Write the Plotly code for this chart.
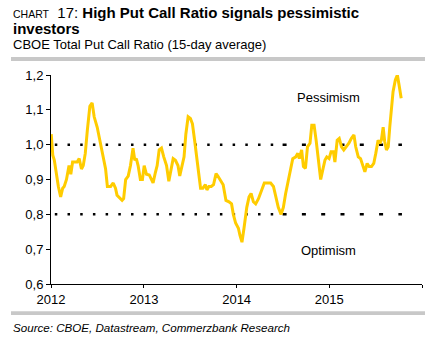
import plotly.graph_objects as go

dates = [
    "2012-01-02", "2012-01-08", "2012-01-14", "2012-01-23", "2012-01-30", "2012-02-08",
    "2012-02-16", "2012-02-22", "2012-03-02", "2012-03-12", "2012-03-19", "2012-03-26",
    "2012-04-04", "2012-04-13", "2012-04-21", "2012-04-30", "2012-05-07", "2012-05-15",
    "2012-05-23", "2012-06-02", "2012-06-11", "2012-06-19", "2012-07-01", "2012-07-11",
    "2012-07-22", "2012-08-03", "2012-08-10", "2012-08-23", "2012-09-02", "2012-09-11",
    "2012-09-17", "2012-09-28", "2012-10-07", "2012-10-13", "2012-10-21", "2012-10-31",
    "2012-11-09", "2012-11-19", "2012-11-26", "2012-12-02", "2012-12-09", "2012-12-18",
    "2012-12-26", "2013-01-02", "2013-01-11", "2013-01-22", "2013-01-31", "2013-02-06",
    "2013-02-15", "2013-02-22", "2013-03-02", "2013-03-11", "2013-03-20", "2013-03-31",
    "2013-04-09", "2013-04-17", "2013-04-26", "2013-05-05", "2013-05-15", "2013-05-22",
    "2013-05-31", "2013-06-08", "2013-06-15", "2013-06-24", "2013-07-03", "2013-07-11",
    "2013-07-20", "2013-07-29", "2013-08-06", "2013-08-12", "2013-08-21", "2013-08-31",
    "2013-09-06", "2013-09-14", "2013-09-23", "2013-10-02", "2013-10-12", "2013-10-19",
    "2013-10-27", "2013-11-09", "2013-11-20", "2013-12-02", "2013-12-12", "2013-12-19",
    "2013-12-28", "2014-01-08", "2014-01-14", "2014-01-22", "2014-01-30", "2014-02-10",
    "2014-02-19", "2014-02-27", "2014-03-08", "2014-03-17", "2014-03-28", "2014-04-10",
    "2014-04-20", "2014-05-06", "2014-05-15", "2014-05-26", "2014-06-05", "2014-06-14",
    "2014-06-25", "2014-07-04", "2014-07-13", "2014-07-24", "2014-08-02", "2014-08-10",
    "2014-08-22", "2014-08-30", "2014-09-05", "2014-09-14", "2014-09-21", "2014-09-29",
    "2014-10-07", "2014-10-17", "2014-10-24", "2014-11-02", "2014-11-10", "2014-11-19",
    "2014-11-28", "2014-12-06", "2014-12-15", "2014-12-22", "2014-12-31", "2015-01-08",
    "2015-01-17", "2015-01-23", "2015-02-01", "2015-02-09", "2015-02-18", "2015-02-27",
    "2015-03-10", "2015-03-19", "2015-03-29", "2015-04-08", "2015-04-15", "2015-04-25",
    "2015-05-04", "2015-05-11", "2015-05-21", "2015-05-30", "2015-06-07", "2015-06-16",
    "2015-06-25", "2015-07-03", "2015-07-12", "2015-07-19", "2015-07-25", "2015-08-01",
    "2015-08-07", "2015-08-14", "2015-08-21", "2015-08-27", "2015-09-03", "2015-09-09",
    "2015-09-18", "2015-09-26", "2015-10-03", "2015-10-11",
]
put_call_ratio = [
    1.03, 0.97, 0.956, 0.908, 0.88, 0.85,
    0.875, 0.88, 0.90, 0.94, 0.915, 0.95,
    0.95, 0.95, 0.96, 0.93, 0.94, 0.975,
    1.04, 1.11, 1.12, 1.08, 1.05, 1.01,
    0.97, 0.93, 0.88, 0.88, 0.89, 0.875,
    0.855, 0.845, 0.84, 0.845, 0.90, 0.91,
    0.94, 0.99, 0.955, 0.96, 0.94, 0.90,
    0.90, 0.94, 0.915, 0.913, 0.90, 0.89,
    0.92, 0.94, 0.985, 0.99, 0.965, 0.94,
    0.895, 0.925, 0.96, 0.955, 0.94, 0.91,
    0.94, 0.965, 1.03, 1.08, 1.075, 1.06,
    1.01, 0.965, 0.91, 0.875, 0.875, 0.885,
    0.87, 0.88, 0.88, 0.885, 0.917, 0.91,
    0.90, 0.885, 0.84, 0.836, 0.83, 0.80,
    0.775, 0.76, 0.74, 0.72, 0.76, 0.82,
    0.85, 0.86, 0.836, 0.83, 0.845, 0.87,
    0.89, 0.89, 0.89, 0.88, 0.85, 0.82,
    0.80, 0.82, 0.86, 0.90, 0.927, 0.96,
    0.965, 0.975, 0.96, 0.985, 0.937, 0.932,
    0.994, 1.004, 1.056, 1.056, 1.013, 0.956,
    0.90, 0.927, 0.956, 0.965, 0.96, 0.98,
    0.98, 0.95, 1.013, 1.018, 0.994, 0.985,
    0.994, 1.004, 1.018, 1.028, 0.994, 0.965,
    0.96, 0.946, 0.922, 0.946, 0.937, 0.937,
    0.946, 0.975, 1.013, 1.004, 1.013, 1.05,
    1.01, 0.985, 0.994, 1.05, 1.095, 1.152,
    1.186, 1.20, 1.17, 1.133,
]

threshold_levels = [1.0, 0.8]
threshold_labels = ["Pessimism", "Optimism"]
year_ticks = ["2012-01-01", "2013-01-01", "2014-01-01", "2015-01-01", "2016-01-01"]
year_labels = ["2012", "2013", "2014", "2015", ""]
y_ticks = [0.6, 0.7, 0.8, 0.9, 1.0, 1.1, 1.2]

FONT = "Liberation Sans, Arial, sans-serif"
YELLOW = "#FFCC00"

fig = go.Figure()

# dotted reference lines (dots in first part, short dashes later)
for lvl in threshold_levels:
    fig.add_trace(go.Scatter(
        x=["2012-01-16", "2014-06-22"], y=[lvl, lvl], mode="lines",
        line=dict(color="black", width=2.5, dash="2.5px,10.2px"),
        hoverinfo="skip", showlegend=False))
    fig.add_trace(go.Scatter(
        x=["2014-07-01", "2015-10-14"], y=[lvl, lvl], mode="lines",
        line=dict(color="black", width=2.5, dash="4px,15.3px"),
        hoverinfo="skip", showlegend=False))

fig.add_trace(go.Scatter(
    x=dates, y=put_call_ratio, mode="lines",
    line=dict(color=YELLOW, width=3), showlegend=False))

W, H = 443, 347
L, R, T, B = 51, 21, 75, 63
pw, ph = W - L - R, H - T - B

def px(x):
    return (x - L) / pw

def py(y):
    return (H - B - y) / ph

annotations = [
    dict(x=px(11), y=py(12.5), xref="paper", yref="paper", xanchor="left", yanchor="middle",
         text="<span style='font-size:10.5px'>CHART</span>&nbsp;&nbsp;17: <b>High Put Call Ratio signals pessimistic</b>",
         showarrow=False, font=dict(family=FONT, size=15, color="black")),
    dict(x=px(11), y=py(28.5), xref="paper", yref="paper", xanchor="left", yanchor="middle",
         text="<b>investors</b>", showarrow=False, font=dict(family=FONT, size=15, color="black")),
    dict(x=px(11), y=py(44.5), xref="paper", yref="paper", xanchor="left", yanchor="middle",
         text="CBOE Total Put Call Ratio (15-day average)", showarrow=False,
         font=dict(family=FONT, size=13, color="black")),
    dict(x=px(11), y=py(327.5), xref="paper", yref="paper", xanchor="left", yanchor="middle",
         text="<i>Source: CBOE, Datastream, Commerzbank Research</i>", showarrow=False,
         font=dict(family=FONT, size=11.6, color="black")),
    dict(x="2014-12-27", y=1.134, xref="x", yref="y", xanchor="center", yanchor="middle",
         text=threshold_labels[0], showarrow=False, font=dict(family=FONT, size=13, color="black")),
    dict(x="2014-12-27", y=0.695, xref="x", yref="y", xanchor="center", yanchor="middle",
         text=threshold_labels[1], showarrow=False, font=dict(family=FONT, size=13, color="black")),
]

shapes = [
    dict(type="rect", xref="paper", yref="paper", x0=px(11), x1=px(425), y0=py(61), y1=py(57),
         fillcolor="#c8c8c8", line=dict(width=0), layer="below"),
    dict(type="rect", xref="paper", yref="paper", x0=px(11), x1=px(425), y0=py(315), y1=py(311.3),
         fillcolor="#c8c8c8", line=dict(width=0), layer="below"),
]

fig.update_layout(
    width=W, height=H,
    margin=dict(l=L, r=R, t=T, b=B, pad=0),
    paper_bgcolor="white", plot_bgcolor="white",
    separators=",.",
    font=dict(family=FONT, size=13, color="black"),
    annotations=annotations, shapes=shapes,
    xaxis=dict(type="date", range=["2012-01-01", "2016-01-01"], tickvals=year_ticks,
               ticktext=year_labels, showgrid=False, zeroline=False, showline=True,
               linecolor="black", linewidth=1, ticks="outside", ticklen=3, tickcolor="black",
               tickfont=dict(family=FONT, size=13, color="black")),
    yaxis=dict(range=[0.6, 1.2], tickvals=y_ticks, tickformat=".1f", showgrid=False,
               zeroline=False, showline=True, linecolor="black", linewidth=1, ticks="outside",
               ticklen=4, tickcolor="black", tickfont=dict(family=FONT, size=13, color="black")),
)

fig.write_html("out.html")
